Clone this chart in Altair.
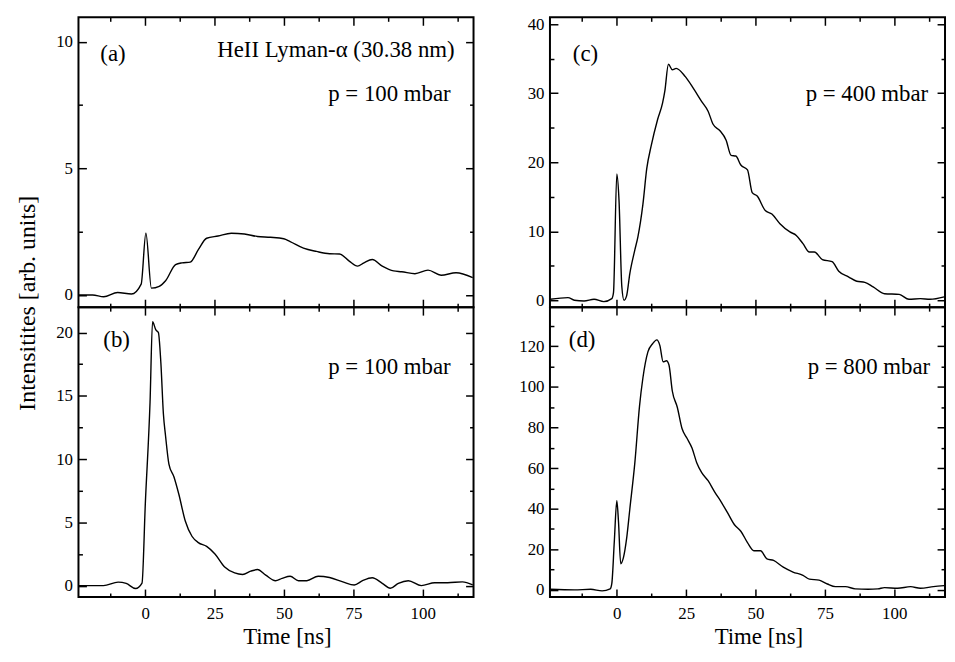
import altair as alt
import pandas as pd

FONT = "Liberation Serif"
W = 398
H = 292

# ---------------- data ----------------
t_a = [-24, -19, -15, -10, -5, -1.5, 0.2, 2.2, 5, 7.3, 10.9, 13.2, 16.2, 19.1, 22.1, 26.2, 31, 35.7,
       40.4, 45.1, 49.9, 52.2, 57, 61.7, 66.4, 70, 73.5, 76.5, 78.8, 81.8, 85.4, 89.5, 92.4, 97.2,
       101.9, 106.6, 112, 118]
v_a = [0.0, 0.0, -0.07, 0.1, 0.04, 0.43, 2.44, 0.27, 0.34, 0.56, 1.2, 1.27, 1.3, 1.79, 2.24, 2.33,
       2.44, 2.41, 2.31, 2.28, 2.22, 2.11, 1.85, 1.72, 1.63, 1.62, 1.34, 1.14, 1.27, 1.4, 1.14, 0.95,
       0.92, 0.84, 0.98, 0.78, 0.88, 0.69]

t_b = [-24, -15.1, -9.8, -6.9, -3.5, -1.2, 0, 1.7, 2.6, 3.8, 4.7, 5.6, 6.5, 7.3, 8.5, 10.3, 12.1,
       14.4, 16.8, 19.1, 22.1, 25.1, 28.6, 32.2, 35.1, 38, 40.4, 43.4, 46.9, 49.3, 52.2, 55.2, 58.2,
       62.3, 66.4, 71.2, 75.3, 78.3, 81.8, 85.4, 88.3, 91.2, 94.8, 99.5, 104.3, 109, 114.3, 118]
v_b = [0.0, 0.0, 0.28, 0.17, -0.23, 0.2, 6.5, 14.5, 20.85, 20.2, 20.0, 17.6, 13.6, 11.8, 9.6, 8.6,
       7.2, 5.1, 3.9, 3.4, 3.1, 2.5, 1.47, 1.0, 0.88, 1.14, 1.27, 0.83, 0.39, 0.57, 0.74, 0.39, 0.39,
       0.74, 0.64, 0.3, 0.05, 0.39, 0.62, 0.18, -0.21, 0.18, 0.39, 0.0, 0.23, 0.23, 0.3, 0.05]

t_c = [-24, -17.6, -15.3, -11.8, -8.2, -4.7, -1.8, -1.2, 0, 0.8, 1.8, 2.6, 3.5, 4.7, 6.5, 7.6, 9.4,
       10.8, 12.4, 14.7, 16.5, 17.3, 18.6, 20, 21.4, 24.7, 27.6, 30.6, 32.9, 34.7, 37.1, 39.4, 41.2,
       42.9, 44.7, 47.1, 48.8, 50.6, 53.5, 55.9, 58.8, 62.4, 64.7, 67.1, 69.4, 71.2, 74.1, 77.6, 80,
       83.5, 86.5, 89.4, 92.4, 96.5, 101.8, 105.3, 109.4, 112.9, 118]
v_c = [0.14, 0.38, 0.0, -0.1, 0.14, -0.19, 0.24, 1.1, 18.3, 14.4, 2.0, 0.0, 0.6, 3.9, 7.3, 9.2,
       13.9, 19.1, 22.4, 26.2, 28.6, 30.3, 34.2, 33.4, 33.6, 32.4, 30.7, 28.8, 27.4, 25.5, 24.6, 23.2,
       21.0, 20.9, 19.6, 18.9, 15.6, 15.1, 13.0, 12.5, 11.1, 9.9, 9.4, 8.2, 7.0, 7.0, 5.9, 5.6, 4.2,
       3.4, 2.75, 2.6, 1.95, 0.95, 0.85, 0.14, 0.24, 0.14, 0.5]

t_d = [-24, -15.3, -9.4, -5.3, -2.4, -1.8, -0.9, 0, 0.6, 1.4, 2.4, 3.5, 4.7, 6.5, 8.2, 9.4, 11.2,
       12.9, 14.4, 15.5, 16.7, 17.9, 18.8, 20, 21.8, 23.5, 25.3, 27.1, 28.8, 30.6, 32.9, 35.3, 37.6,
       40, 42.4, 44.7, 47.1, 49.4, 51.8, 54.1, 56.5, 60, 63.5, 67.1, 69.4, 72.9, 75.9, 78.8, 82.4,
       85.9, 90.6, 94.1, 96.5, 101.2, 105.9, 109.4, 114.1, 118]
v_d = [0.3, 0.0, 0.3, -0.5, 0.5, 3.2, 24, 43.9, 33.7, 12.9, 16, 25, 40, 62.7, 90.8, 104.4, 117.3,
       121.3, 123.2, 120.5, 112.4, 112.9, 110.8, 98, 90, 79.5, 74.7, 69.9, 62.7, 57.8, 53.8, 48.2,
       43.4, 37.8, 32.1, 28.9, 23.3, 19.3, 19.3, 15.3, 14.5, 11.2, 8.8, 7.2, 5.3, 4.8, 2.9, 1.6, 1.6,
       0.5, 0.3, 0.5, 1.1, 0.8, 1.6, 0.8, 1.6, 2.1]

x_domain = [-24.1, 118.3]
x_major = [0, 25, 50, 75, 100]
x_minor = [-12.5, 12.5, 37.5, 62.5, 87.5, 112.5]

y_domains = {"a": [-0.48, 10.96], "b": [-0.9, 22.0], "c": [-1.0, 41.0], "d": [-3.5, 139.3]}
y_major = {"a": [0, 5, 10], "b": [0, 5, 10, 15, 20], "c": [0, 10, 20, 30, 40],
           "d": [0, 20, 40, 60, 80, 100, 120]}
y_minor = {"a": [2.5, 7.5], "b": [2.5, 7.5, 12.5, 17.5], "c": [5, 15, 25, 35],
           "d": [10, 30, 50, 70, 90, 110, 130]}
y_step = {"a": 5, "b": 5, "c": 10, "d": 20}

panel_tags = {"a": "(a)", "b": "(b)", "c": "(c)", "d": "(d)"}
line_label = "HeII Lyman-α (30.38 nm)"
pressures = {"a": "p = 100 mbar", "b": "p = 100 mbar", "c": "p = 400 mbar", "d": "p = 800 mbar"}
y_title = "Intensitites [arb. units]"
x_title = "Time [ns]"

series = {"a": (t_a, v_a), "b": (t_b, v_b), "c": (t_c, v_c), "d": (t_d, v_d)}

# ---------------- helpers ----------------
def cond_size(step, big, small):
    return {"condition": {"test": f"abs(datum.value % {step}) < 0.0001", "value": big}, "value": small}


def text_layer(label, x, y, align, size=23, angle=0, baseline="alphabetic"):
    return alt.Chart(pd.DataFrame({"label": [label]})).mark_text(
        font=FONT, fontSize=size, align=align, baseline=baseline, angle=angle, color="black"
    ).encode(text="label:N", x=alt.value(x), y=alt.value(y))


def panel(key, bottom, tag_pos, p_pos, extra=()):
    t, v = series[key]
    df = pd.DataFrame({"t": t, "v": v})
    xs = alt.Scale(domain=x_domain, nice=False, zero=False)
    ys = alt.Scale(domain=y_domains[key], nice=False, zero=False)
    x_all = sorted(x_major + x_minor)
    y_all = sorted(y_major[key] + y_minor[key])
    xt = cond_size(25, 8, 4)
    yt = cond_size(y_step[key], 8, 4)
    common = dict(labels=False, domain=False, grid=False, title=None, tickColor="black", tickWidth=1.5)

    if bottom:
        xa = alt.Axis(orient="bottom", values=x_major, ticks=False, domain=False, grid=False,
                      labelPadding=9, title=x_title, titlePadding=4, titleX=W / 2 + 11, format="d")
    else:
        xa = None
    ya = alt.Axis(orient="left", values=y_major[key], ticks=False, domain=False, grid=False,
                  labelPadding=6, title=None, format="d")

    base = alt.Chart(df)
    line = base.mark_line(color="black", strokeWidth=1.4, clip=True, interpolate="monotone").encode(
        x=alt.X("t:Q", scale=xs, axis=xa), y=alt.Y("v:Q", scale=ys, axis=ya))
    # ticks from bottom and left edges, pointing inward
    ticks1 = base.mark_line(opacity=0).encode(
        x=alt.X("t:Q", scale=xs, axis=alt.Axis(orient="top", offset=-H, values=x_all, tickSize=xt, **common)),
        y=alt.Y("v:Q", scale=ys, axis=alt.Axis(orient="right", offset=-W, values=y_all, tickSize=yt, **common)))
    # ticks from top and right edges, pointing inward
    ticks2 = base.mark_line(opacity=0).encode(
        x=alt.X("t:Q", scale=xs, axis=alt.Axis(orient="bottom", offset=-H, values=x_all, tickSize=xt, **common)),
        y=alt.Y("v:Q", scale=ys, axis=alt.Axis(orient="left", offset=-W, values=y_all, tickSize=yt, **common)))

    layers = [line, ticks1, ticks2,
              text_layer(panel_tags[key], tag_pos[0], tag_pos[1], "left"),
              text_layer(pressures[key], W - p_pos[0], p_pos[1], "right")]
    layers += list(extra)
    return alt.layer(*layers).resolve_axis(x="independent", y="independent").properties(width=W, height=H)


pa = panel("a", False, (22, 44), (23, 84), extra=[
    text_layer(line_label, W - 19, 40, "right"),
    text_layer(y_title, -51, 288, "center", size=24, angle=270, baseline="middle"),
])
pb = panel("b", True, (25, 40), (23, 67))
pc = panel("c", False, (23, 44), (17, 84))
pd_ = panel("d", True, (19, 40), (15, 67))

chart = alt.concat(pa, pc, pb, pd_, columns=2, spacing=alt.RowColnumber(row=0, column=77),
                   bounds="flush").properties(
    padding={"left": 7, "top": 3, "right": 0, "bottom": 0}
).configure_view(stroke="black", strokeWidth=2).configure_axis(
    labelFont=FONT, labelFontSize=17, labelColor="black",
    titleFont=FONT, titleFontSize=23, titleFontWeight="normal", titleColor="black"
)

chart.save("out.html", embed_options={"renderer": "svg", "actions": False})
